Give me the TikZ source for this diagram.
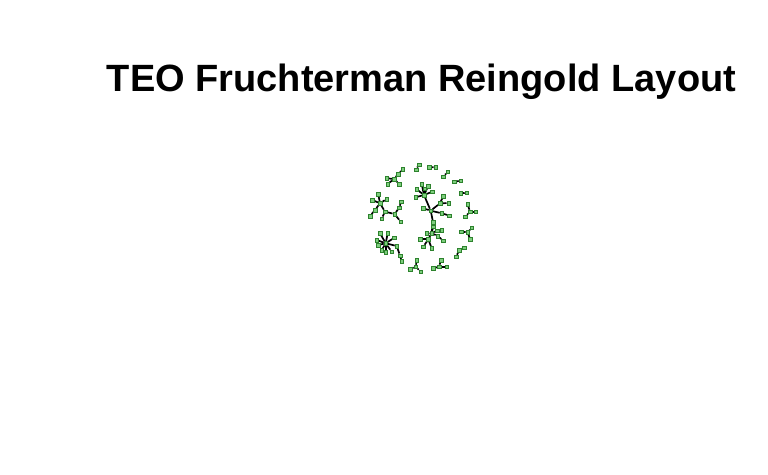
\documentclass[tikz,border=0pt]{standalone}
\usepackage{fontspec}
\setmainfont{Liberation Sans}
\usetikzlibrary{backgrounds}

\definecolor{vtxfill}{RGB}{125,205,125}
\definecolor{vtxline}{RGB}{45,130,45}

\begin{document}
\begin{tikzpicture}[x=1pt,y=-1pt,
    vtx/.style={rectangle,draw=vtxline,fill=vtxfill,line width=0.5pt,minimum size=3.5pt,inner sep=0pt},
    edge/.style={black,line width=1.7pt}]
    \useasboundingbox (0,0) rectangle (768,474);

    % Title
    \node[anchor=base] (title) at (421.5,91.7) {\fontsize{38}{42}\selectfont\bfseries TEO Fruchterman Reingold Layout};

    % Vertices
    \foreach \n/\x/\y in {
        a1/419/164.5, a2/416/169.5,
        b1/429/167, b2/435.7/167.3,
        c0/394/179, c1/386.7/178.3, c2/387.7/184, c3/399.3/184, c4/398.3/174, c5/402.7/169,
        d1/447.7/171.7, d2/443.3/176.7,
        e1/454.3/181.7, e2/460.7/180.7,
        f1/460.7/193.3, f2/466.7/192.7,
        g0/470/211.7, g1/467.7/204.3, g2/475.7/211.7, g3/465/216.7,
        h0/467.7/232.3, h1/471.7/227.7, h2/461/231.7, h3/470/239,
        i1/464.3/247.7, i2/459.3/250, i3/456/256.7,
        j0/439/266.7, j1/441/260, j2/433.3/268.3, j3/446.7/266.7,
        k0/415.7/266.7, k1/416.7/260, k2/410/269, k3/420.7/271.7,
        l0/385.7/243.3, l1/380/233.3, l2/387.7/233.3, l3/394.3/237.7, l4/376.7/240,
        l5/378.3/245, l6/381.7/250, l7/385.7/252.3, l8/391.7/251.7, l9/396.7/246,
        l10/400/255.5, l11/401.5/261,
        m0/380/203.3, m1/372.3/200, m2/378.3/194.3, m3/386.7/199, m4/375/210,
        m5/370/216, m6/385/211.7, m7/381.7/218.5,
        n0/394.5/214, n1/399.3/207.7, n2/401/201.7, n3/400.7/221.7,
        t0/424/195, t1/421.7/184, t2/428.3/186, t3/424.5/188.5, t4/416.7/189.3,
        t5/415.5/197.3, t6/432.3/191.7,
        q0/430.7/210.7, q1/423.3/208.3, q2/440/203.3, q3/443.3/196, q4/448.5/203,
        q5/441.7/213.3, q6/449/215.5, q7/433/222,
        r0/431.5/233, r1/433.3/226.7, r2/426.7/233.3, r3/437.3/230.7, r4/441.7/230,
        r5/428.3/239.3, r6/443.3/240.7, r7/420/239.3, r8/423.3/246.7, r9/431.7/248.3,
        r10/437.7/236}
        \node[vtx] (\n) at (\x,\y) {};

    % Edges
    \begin{scope}[on background layer]
    \foreach \a/\b in {
        a1/a2, b1/b2, d1/d2, e1/e2, f1/f2,
        c0/c1, c0/c2, c0/c3, c0/c4, c4/c5,
        g0/g1, g0/g2, g0/g3,
        h0/h1, h0/h2, h0/h3,
        i1/i2, i2/i3,
        j0/j1, j0/j2, j0/j3,
        k0/k1, k0/k2, k0/k3,
        l0/l1, l0/l2, l0/l3, l0/l4, l0/l5, l0/l6, l0/l7, l0/l8, l0/l9, l9/l10, l10/l11,
        m0/m1, m0/m2, m0/m3, m0/m4, m4/m5, m0/m6, m6/m7, m6/n0,
        n0/n1, n1/n2, n0/n3,
        t0/t1, t0/t2, t0/t3, t0/t4, t0/t5, t0/t6, t0/q0,
        q0/q1, q0/q2, q2/q3, q2/q4, q0/q5, q5/q6, q0/q7, q7/r0,
        r0/r1, r0/r2, r0/r3, r3/r4, r0/r5, r0/r10, r10/r6, r5/r7, r5/r8, r5/r9}
        \draw[edge] (\a) -- (\b);
    \end{scope}
\end{tikzpicture}
\end{document}
